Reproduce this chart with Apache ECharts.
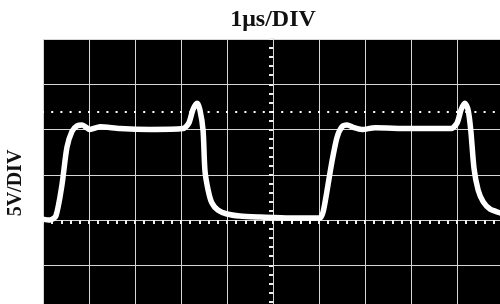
<!DOCTYPE html>
<html>
<head>
<meta charset="utf-8">
<script src="https://cdn.jsdelivr.net/npm/echarts@6/dist/echarts.min.js"></script>
<style>
  html, body { margin: 0; padding: 0; background: #fff; }
  #chart { width: 500px; height: 304px; }
</style>
</head>
<body>
<div id="chart"></div>
<script>
// time in us (screen centre = 0), volts
const timeUs = [
  -5.0, -4.85, -4.72, -4.59, -4.48, -4.37, -4.26, -4.15, -3.98, -3.76,
  -3.33, -2.67, -1.96, -1.83, -1.74, -1.65, -1.59, -1.52, -1.48, -1.41,
  -1.33, -1.20, -1.00, -0.72, -0.28, 0.37, 0.93,
  1.02, 1.09, 1.17, 1.28, 1.39, 1.50, 1.61, 1.76, 1.93, 2.22,
  2.98, 3.87, 4.00, 4.09, 4.17, 4.24, 4.30, 4.37, 4.46, 4.57,
  4.72, 4.93, 5.0
]
const volts = [
  0.1, 0, 0.44, 3.8, 8.0, 9.8, 10.4, 10.5, 10.0, 10.3,
  10.1, 10.0, 10.1, 10.7, 12.2, 12.9, 12.2, 9.9, 5.5, 3.3,
  1.9, 1.1, 0.66, 0.44, 0.33, 0.22, 0.22,
  0.22, 0.9, 3.1, 6.4, 9.1, 10.3, 10.5, 10.2, 10.0, 10.2,
  10.1, 10.1, 10.7, 12.2, 12.9, 12.2, 9.9, 5.7, 3.3, 2.0,
  1.2, 0.8, 0.66
]
const dottedLevel = 12
const titleText = '1\u03bcs/DIV'
const yName = '5V/DIV'

const gridColor = '#d6d6d6'
const tickColor = '#eeeeee'

const chart = echarts.init(document.getElementById('chart'), null, { renderer: 'canvas' })

// centre graticule: two axes on zero (second pair refers to each other),
// ticks drawn outward on one, inward on the other
function centreAxis(min, max, interval, inside) {
  return {
    type: 'value', min: min, max: max, interval: interval,
    axisLine: {
      show: true, onZero: true, onZeroAxisIndex: inside ? 1 : 0,
      lineStyle: { color: gridColor, width: 1 }
    },
    axisTick: { show: true, inside: inside, length: 4, lineStyle: { color: tickColor, width: 2 } },
    minorTick: { show: true, splitNumber: 5, length: 4, lineStyle: { color: tickColor, width: 2 } },
    axisLabel: { show: false },
    splitLine: { show: !inside, lineStyle: { color: gridColor, width: 1 } }
  }
}

chart.setOption({
  animation: false,
  backgroundColor: '#fff',
  title: {
    text: titleText,
    left: 268, top: 3, textAlign: 'center',
    textStyle: { fontFamily: 'Liberation Serif', fontWeight: 'bold', fontSize: 24, color: '#111' }
  },
  graphic: [{
    type: 'text',
    x: 16, y: 183, rotation: Math.PI / 2,
    style: {
      text: yName, fill: '#111',
      font: 'bold 20px "Liberation Serif"',
      textAlign: 'center', textVerticalAlign: 'middle'
    }
  }],
  grid: {
    left: 43, top: 39, width: 460, height: 362,
    outerBoundsMode: 'none',
    show: true, backgroundColor: '#000', borderWidth: 0
  },
  xAxis: [centreAxis(-5, 5, 1, false), centreAxis(-5, 5, 1, true)],
  yAxis: [centreAxis(-20, 20, 5, false), centreAxis(-20, 20, 5, true)],
  series: [{
    type: 'line',
    data: timeUs.map((t, i) => [t, volts[i]]),
    smooth: 0.25,
    showSymbol: false,
    lineStyle: { color: '#fff', width: 5.5, cap: 'round', join: 'round' },
    markLine: {
      silent: true,
      symbol: 'none',
      label: { show: false },
      lineStyle: { color: '#fff', width: 2, type: [2, 7.2], dashOffset: 1 },
      data: [{ yAxis: dottedLevel }]
    },
    z: 5
  }]
})
</script>
</body>
</html>
